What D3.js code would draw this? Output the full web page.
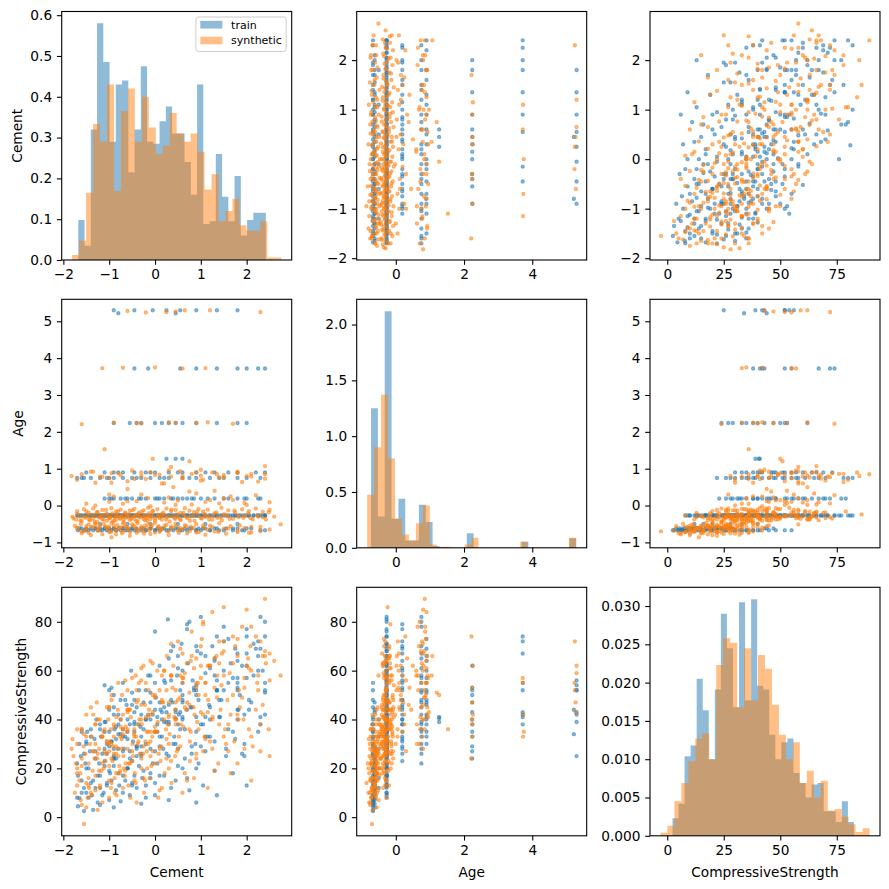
<!DOCTYPE html>
<html>
<head>
<meta charset="utf-8">
<script src="https://cdn.jsdelivr.net/npm/d3@7"></script>
<style>
  body { margin: 0; background: #fff; }
  svg { display: block; font-family: "DejaVu Sans", sans-serif; }
</style>
</head>
<body>
<script>
// ---- data (standardised Cement / Age, raw CompressiveStrength) ----

// train rows, grouped by age band
const trainCement = [
  -1.68,-1.65,-1.55,-1.5,-1.45,-1.4,-1.35,-1.3,-1.25,-1.2,-1.15,-1.1,-1.05,-1.0,-0.95,-0.9,-0.85,-0.8,-0.75,-0.7,-0.65,-0.6,-0.55,-0.5,-0.45,-0.4,-0.3,-0.25,-0.2,-0.1,0.0,0.05,0.1,0.2,0.25,0.35,0.4,0.5,0.55,0.65,0.7,0.8,0.9,0.95,1.0,1.1,1.2,1.3,1.4,1.55,1.7,1.8,1.95,2.1,2.3,
  -1.6,-1.5,-1.3,-1.2,-1.1,-1.0,-0.9,-0.85,-0.7,-0.6,-0.5,-0.4,-0.3,-0.2,-0.1,0.0,0.15,0.3,0.45,0.6,0.75,0.9,1.05,1.2,1.35,1.5,1.7,1.9,2.0,2.4,
  -1.2,-0.6,-0.1,0.5,1.1,1.8,
  -1.7,-1.68,-1.62,-1.55,-1.5,-1.45,-1.4,-1.35,-1.3,-1.28,-1.22,-1.18,-1.12,-1.1,-1.08,-1.05,-1.0,-0.98,-0.95,-0.9,
  -0.88,-0.85,-0.8,-0.78,-0.75,-0.7,-0.68,-0.62,-0.6,-0.55,-0.52,-0.48,-0.45,-0.4,-0.35,-0.32,-0.28,-0.25,-0.2,-0.15,
  -0.1,-0.05,0.0,0.02,0.05,0.1,0.12,0.18,0.22,0.28,0.3,0.35,0.38,0.42,0.48,0.52,0.58,0.6,0.65,0.7,
  0.72,0.78,0.82,0.88,0.92,0.95,1.0,1.05,1.1,1.18,1.25,1.3,1.35,1.42,1.5,1.6,1.7,1.75,1.82,1.9,
  2.0,2.05,2.15,2.25,2.3,2.4,2.4,
  -1.65,-1.6,-1.52,-1.48,-1.42,-1.38,-1.32,-1.25,-1.2,-1.15,-1.1,-1.05,-1.0,-0.95,-0.9,-0.85,-0.8,-0.75,-0.7,-0.65,
  -0.6,-0.55,-0.5,-0.45,-0.4,-0.35,-0.3,-0.25,-0.2,-0.1,0.0,0.05,0.1,0.15,0.2,0.3,0.35,0.45,0.5,0.6,
  0.7,0.8,0.85,0.9,1.0,1.1,1.2,1.3,1.35,1.45,1.55,1.65,1.75,1.85,1.95,2.05,2.15,2.25,2.35,2.4,
  -1.1,-1.0,-0.9,-0.75,-0.6,-0.5,-0.35,-0.2,0.0,0.1,0.2,0.35,0.5,0.6,0.7,0.85,1.0,1.3,1.5,1.8,2.0,2.3,
  -0.95,-0.65,-0.3,0.05,0.4,0.8,1.15,1.6,1.95,2.25,
  -1.7,-1.55,-1.4,-1.2,-1.05,-0.9,-0.7,-0.5,-0.3,-0.1,0.1,0.3,0.6,0.9,1.2,1.5,1.8,2.3,
  -1.6,-1.0,-0.4,0.2,0.75,1.4,2.0,
  -1.1,-0.9,-0.7,-0.45,-0.2,0.0,0.3,0.6,0.9,1.3,1.8,2.2,
  -1.5,-0.8,-0.1,0.5,1.1,1.6,2.4,
  0.25,0.45,0.6,
  -0.9,-0.55,-0.4,-0.3,0.0,0.15,0.3,0.45,0.6,0.9,1.35,1.8,2.0,
  -0.45,-0.15,0.55,0.9,1.35,1.8,2.0,2.25,2.4,
  -0.9,-0.8,-0.45,-0.05,0.25,0.45,0.55,0.9,1.35,1.8
];
const trainAge = [
  -0.67,-0.62,-0.67,-0.62,-0.67,-0.62,-0.67,-0.62,-0.67,-0.62,-0.67,-0.62,-0.67,-0.62,-0.67,-0.62,-0.67,-0.62,-0.67,-0.62,-0.67,-0.62,-0.67,-0.62,-0.67,-0.62,-0.67,-0.62,
  -0.67,-0.62,-0.67,-0.62,-0.67,-0.62,-0.67,-0.62,-0.67,-0.62,-0.67,-0.62,-0.67,-0.62,-0.67,-0.62,-0.67,-0.62,-0.67,-0.62,-0.67,-0.62,-0.67,-0.62,-0.67,-0.62,-0.67,
  -0.62,-0.67,-0.62,-0.67,-0.62,-0.67,-0.62,-0.67,-0.62,-0.67,-0.62,-0.67,-0.62,-0.67,-0.62,-0.67,-0.62,-0.67,-0.62,-0.67,-0.62,-0.67,-0.62,-0.67,-0.62,-0.67,-0.62,-0.67,-0.62,-0.67,
  -0.5,-0.5,-0.5,-0.5,-0.5,-0.5,
  -0.27,-0.27,-0.27,-0.27,-0.27,-0.27,-0.27,-0.27,-0.27,-0.27,-0.27,-0.27,-0.27,-0.27,-0.27,-0.27,-0.27,-0.27,-0.27,-0.27,
  -0.27,-0.27,-0.27,-0.27,-0.27,-0.27,-0.27,-0.27,-0.27,-0.27,-0.27,-0.27,-0.27,-0.27,-0.27,-0.27,-0.27,-0.27,-0.27,-0.27,
  -0.27,-0.27,-0.27,-0.27,-0.27,-0.27,-0.27,-0.27,-0.27,-0.27,-0.27,-0.27,-0.27,-0.27,-0.27,-0.27,-0.27,-0.27,-0.27,-0.27,
  -0.27,-0.27,-0.27,-0.27,-0.27,-0.27,-0.27,-0.27,-0.27,-0.27,-0.27,-0.27,-0.27,-0.27,-0.27,-0.27,-0.27,-0.27,-0.27,-0.27,
  -0.27,-0.27,-0.27,-0.27,-0.27,-0.27,-0.27,
  -0.27,-0.27,-0.27,-0.27,-0.27,-0.27,-0.27,-0.27,-0.27,-0.27,-0.27,-0.27,-0.27,-0.27,-0.27,-0.27,-0.27,-0.27,-0.27,-0.27,
  -0.27,-0.27,-0.27,-0.27,-0.27,-0.27,-0.27,-0.27,-0.27,-0.27,-0.27,-0.27,-0.27,-0.27,-0.27,-0.27,-0.27,-0.27,-0.27,-0.27,
  -0.27,-0.27,-0.27,-0.27,-0.27,-0.27,-0.27,-0.27,-0.27,-0.27,-0.27,-0.27,-0.27,-0.27,-0.27,-0.27,-0.27,-0.27,-0.27,-0.27,
  0.19,0.19,0.19,0.19,0.19,0.19,0.19,0.19,0.19,0.19,0.19,0.19,0.19,0.19,0.19,0.19,0.19,0.19,0.19,0.19,0.19,0.19,
  0.19,0.19,0.19,0.19,0.19,0.19,0.19,0.19,0.19,0.19,
  0.75,0.75,0.75,0.75,0.75,0.75,0.75,0.75,0.75,0.75,0.75,0.75,0.75,0.75,0.75,0.75,0.75,0.75,
  0.75,0.75,0.75,0.75,0.75,0.75,0.75,
  0.9,0.9,0.9,0.9,0.9,0.9,0.9,0.9,0.9,0.9,0.9,0.9,
  0.9,0.9,0.9,0.9,0.9,0.9,0.9,
  1.27,1.27,1.27,
  2.24,2.24,2.24,2.24,2.24,2.24,2.24,2.24,2.24,2.24,2.24,2.24,2.24,
  3.72,3.72,3.72,3.72,3.72,3.72,3.72,3.72,3.72,
  5.3,5.22,5.3,5.3,5.3,5.22,5.3,5.3,5.3,5.3
];
const trainStrength = [
  4.5,7.8,2.5,10,8,14,3,12,6,17,9,21,13,7,15,24,11,18,6.5,27,15,20,9,23,17,12,25,19,8,28,14,22,33,17,26,12,30,21,36,24,16,29,6,22,38,27,33,19,41,25,35,44,30,47,38,
  15,20,24,5,28,19,4,32,10,35,14,29,5.5,40,18,9,43,7,15,48,11,20,13,45,9,52,18,26,13,55,
  12,20,16,28,33,40,
  8,17,25,12,31,20,36,15,27,40,22,33,10,54,39,26,44,18,31,50,
  36,24,42,13,34,55,28,46,20,38,60,31,43,25,52,37,16,47,30,58,
  40,22,76,49,35,62,44,28,55,81,39,68,47,33,58,42,71,50,36,77,
  63,45,56,30,68,48,82,38,59,46,70,65,52,41,60,36,57,69,44,62,
  74,48,58,66,41,80,52,
  30,10,22,35,27,9,32,17,36,26,39,14,29,53,21,37,28,48,17,33,
  40,24,13,35,45,21,29,36,13,51,27,41,17,33,45,25,56,30,38,20,
  44,26,52,35,29,66,40,31,74,48,28,63,32,50,25,44,71,35,60,42,
  23,35,28,40,32,46,38,52,44,29,56,48,61,40,79,53,67,58,72,64,77,69,
  31,48,26,38,70,45,33,55,42,60,
  22,26,33,38,30,45,36,51,42,58,47,65,55,70,61,78,67,82,
  35,52,28,39,80,48,57,
  35,42,33,48,40,55,46,60,52,64,57,69,
  30,38,47,66,41,73,51,
  39,40.5,41,
  24,27,29,33,35,40,38,43,47,50,52,53,62,
  38,42,43,41,52,55,67,72,74,
  25,34,39,42,43,44,52,54,56,52
];

// synthetic rows
const synthCement = [
  -1.55,-1.6,-1.4,-1.25,-0.95,-1.0,-0.85,-0.7,-0.55,-0.4,-0.25,-0.1,0.1,0.3,0.5,0.7,0.9,1.1,1.3,1.55,1.8,2.05,2.3,
  -1.75,-1.7,-1.62,-1.5,-1.45,-1.38,-1.3,-1.25,-1.2,-1.12,-1.05,-1.0,-0.95,-0.88,-0.82,-0.76,-0.7,-0.64,-0.58,-0.5,
  -0.44,-0.38,-0.3,-0.22,-0.15,-0.08,0.0,0.08,0.15,0.25,0.35,0.45,0.55,0.65,0.78,0.9,1.05,1.2,1.4,1.6,1.85,2.1,2.74,
  -1.7,-1.6,-1.5,-1.45,-1.35,-1.3,-1.22,-1.15,-1.08,-1.02,-0.96,-0.9,-0.84,-0.78,-0.72,-0.66,-0.6,-0.54,-0.48,-0.42,
  -0.36,-0.3,-0.24,-0.18,-0.12,-0.06,0.0,0.07,0.14,0.21,0.28,0.36,0.44,0.52,0.6,0.68,0.76,0.85,0.95,1.05,
  1.15,1.25,1.38,1.5,1.65,1.8,1.95,2.1,2.3,2.5,
  -1.8,-1.72,-1.65,-1.6,-1.52,-1.47,-1.42,-1.36,-1.3,-1.26,-1.2,-1.15,-1.1,-1.05,-1.0,-0.96,-0.92,-0.88,-0.84,-0.8,
  -0.76,-0.72,-0.68,-0.64,-0.6,-0.55,-0.5,-0.46,-0.42,-0.38,-0.34,1.5,-0.26,-0.22,-0.18,-0.14,-0.1,-0.05,0.0,0.05,
  0.1,0.15,0.2,0.26,0.32,0.38,0.44,0.5,0.56,0.62,0.7,0.78,0.86,0.94,1.02,1.1,1.18,1.26,1.36,1.46,
  1.58,1.7,1.82,1.95,2.08,2.25,2.42,
  -1.78,-1.7,-1.63,-1.56,-1.5,-1.44,-1.38,-1.32,-1.27,-1.22,-1.17,-1.12,-1.07,-1.02,-0.98,-0.93,-0.89,-0.85,-0.81,-0.77,
  -0.73,-0.69,-0.65,-0.61,-0.57,-0.53,-0.49,-0.45,-0.41,-0.37,-0.33,-0.29,-0.25,-0.21,-0.17,-0.13,-0.09,-0.05,0.0,0.06,
  0.12,0.18,0.24,0.3,0.36,0.42,0.48,0.55,0.62,0.69,0.76,0.84,0.92,1.0,1.08,1.16,1.25,1.34,1.43,1.53,
  1.63,1.73,1.83,1.93,2.03,2.13,2.23,2.35,2.48,2.6,
  -1.7,-1.55,-1.45,-1.35,-1.25,-1.15,-1.05,-0.95,-0.85,-0.75,-0.65,-0.55,-0.45,-0.35,-0.25,-0.15,-0.05,0.05,0.15,0.25,
  0.35,0.45,0.55,0.65,0.75,0.85,0.95,1.05,1.15,1.3,1.45,1.6,1.75,1.9,2.05,2.2,2.35,2.5,
  -1.3,-1.0,-0.7,-0.4,-0.1,0.2,0.5,0.8,1.1,1.4,1.7,2.0,2.5,
  -0.9,-0.3,0.3,0.9,1.5,2.2,
  -0.6,0.4,1.3,
  -1.7,-1.3,-1.0,-0.6,-0.2,0.2,0.6,1.0,1.4,1.9,2.4,
  -1.82,-1.6,-1.35,-1.15,-0.95,-0.75,-0.5,-0.3,-0.1,0.1,0.35,0.55,0.8,1.0,1.25,1.5,1.8,2.1,2.4,
  -1.5,-1.2,-1.0,-0.8,-0.6,-0.45,-0.3,-0.15,0.0,0.15,0.3,0.45,0.6,0.75,0.9,1.05,1.2,1.35,1.5,1.65,
  1.8,1.95,2.1,2.25,2.4,-1.4,-0.95,0.35,1.0,2.0,
  -1.1,-0.05,0.75,
  -1.6,-0.9,-0.3,0.3,0.9,1.7,-0.4,0.45,1.15,
  -1.15,0.0,0.6,-0.7,1.1,
  -0.6,0.25,0.65,1.2,2.3,0.45,-0.2
];
const synthAge = [
  -0.70,-0.75,-0.80,-0.68,-0.86,-0.72,-0.78,-0.70,-0.82,-0.74,-0.69,-0.77,-0.71,-0.80,-0.68,-0.75,-0.73,-0.79,-0.70,-0.76,-0.72,-0.74,-0.69,
  -0.55,-0.60,-0.50,-0.64,-0.52,-0.58,-0.48,-0.62,-0.55,-0.50,-0.60,-0.57,-0.47,-0.63,-0.53,-0.59,-0.49,-0.56,-0.61,-0.51,
  -0.58,-0.48,-0.62,-0.54,-0.50,-0.59,-0.47,-0.56,-0.63,-0.52,-0.57,-0.49,-0.61,-0.53,-0.58,-0.50,-0.60,-0.55,-0.48,-0.62,-0.54,-0.58,-0.51,
  -0.62,-0.70,-0.56,-0.74,-0.60,-0.52,-0.66,-0.78,-0.57,-0.64,-0.71,-0.54,-0.68,-0.61,-0.75,-0.58,-0.65,-0.72,-0.55,-0.63,
  -0.69,-0.57,-0.76,-0.60,-0.67,-0.53,-0.73,-0.59,-0.66,-0.55,-0.70,-0.62,-0.57,-0.74,-0.64,-0.56,-0.69,-0.60,-0.72,-0.54,
  -0.66,-0.58,-0.71,-0.63,-0.56,-0.68,-0.61,-0.73,-0.58,-0.65,
  -0.30,-0.38,-0.28,-0.42,-0.33,-0.27,-0.40,-0.35,-0.29,-0.44,-0.31,-0.37,-0.26,-0.41,-0.34,-0.29,-0.43,-0.32,-0.38,-0.27,
  -0.36,-0.30,-0.45,-0.33,-0.28,-0.39,-0.31,-0.36,-0.26,-0.42,-0.30,-0.24,-0.28,-0.40,-0.33,-0.27,-0.37,-0.30,-0.41,-0.29,
  -0.34,-0.38,-0.27,-0.32,-0.43,-0.29,-0.36,-0.31,-0.39,-0.28,-0.34,-0.30,-0.41,-0.27,-0.35,-0.31,-0.38,-0.28,-0.33,-0.40,
  -0.29,-0.36,-0.31,-0.27,-0.34,-0.30,-0.38,
  -0.35,-0.22,-0.40,-0.30,-0.15,-0.37,-0.25,-0.43,-0.18,-0.32,-0.27,-0.38,-0.12,-0.29,-0.34,-0.21,-0.41,-0.26,-0.16,-0.33,
  -0.28,-0.39,-0.19,-0.31,-0.24,-0.36,-0.13,-0.29,-0.42,-0.23,-0.32,-0.17,-0.36,-0.27,-0.40,-0.21,-0.30,-0.14,-0.35,-0.25,
  -0.31,-0.19,-0.38,-0.28,-0.11,-0.33,-0.24,-0.37,-0.20,-0.30,-0.41,-0.26,-0.16,-0.34,-0.23,-0.29,-0.38,-0.19,-0.31,-0.25,
  -0.36,-0.14,-0.28,-0.33,-0.21,-0.37,-0.26,-0.32,-0.18,-0.30,
  -0.15,-0.10,-0.20,-0.08,-0.18,-0.12,-0.22,-0.07,-0.16,-0.11,-0.21,-0.14,-0.09,-0.19,-0.13,-0.06,-0.17,-0.10,-0.23,-0.08,
  -0.15,-0.12,-0.20,-0.07,-0.14,-0.18,-0.09,-0.16,-0.11,-0.21,-0.06,-0.13,-0.19,-0.10,-0.15,-0.08,-0.17,-0.12,
  0.0,0.1,0.05,0.12,-0.02,0.08,0.14,0.03,0.1,0.06,0.15,0.02,0.09,
  0.25,0.3,0.22,0.33,0.2,0.28,
  0.45,0.5,0.4,
  0.7,0.62,0.75,0.66,0.72,0.6,0.74,0.68,0.76,0.64,0.73,
  0.8,0.85,0.92,0.78,0.88,0.82,0.95,0.8,0.9,0.84,0.79,0.93,0.86,0.81,0.9,0.83,0.88,0.79,0.85,
  0.05,0.78,0.3,0.88,0.12,0.72,0.9,0.2,0.83,0.6,0.95,0.02,0.8,0.38,0.9,0.7,0.15,0.85,0.77,0.25,
  0.92,0.07,0.86,0.65,1.07,0.92,0.62,1.05,0.97,0.8,
  1.53,1.27,1.2,
  2.21,2.25,2.23,2.26,2.24,2.22,2.24,2.25,2.26,
  3.73,3.75,3.72,3.74,3.73,
  5.28,5.25,5.3,5.3,5.25,5.27,5.24
];
const synthStrength = [
  -2.8,5,10,3,14,8,18,12,22,6,16,25,11,20,28,15,24,32,19,30,22,36,27,
  10,18,7,14,22,9,17,26,12,20,31,15,24,10,28,19,34,22,13,27,
  18,38,24,15,30,21,35,26,12,32,23,40,29,18,35,26,42,31,38,27,45,33,58,
  13,21,4,16,27,11,19,6,23,30,12,26,9,21,28,17,36,8,25,14,
  31,20,10,27,16,33,22,8,29,18,38,14,25,33,10,44,23,16,36,27,
  12,40,22,33,18,42,28,15,38,25,
  32,22,15,36,26,8,30,19,38,24,13,33,27,45,21,36,29,16,41,25,
  33,50,20,37,28,44,23,34,58,30,40,86,26,46,35,52,31,43,37,60,
  28,48,40,66,34,53,44,72,38,57,47,64,42,55,73,50,62,41,58,67,
  48,63,40,57,70,52,63,
  25,36,18,29,42,12,33,24,47,28,19,35,26,40,31,23,37,29,44,18,
  32,25,56,35,22,41,30,15,33,48,26,38,62,31,20,44,35,27,50,39,
  23,47,36,30,58,41,27,49,37,63,31,45,39,57,33,48,28,66,44,36,
  59,31,52,40,65,29,55,46,36,64,
  20,34,13,27,40,22,31,48,26,37,19,44,33,55,29,41,63,35,47,24,
  58,40,69,45,36,61,50,79,43,65,54,38,70,49,61,44,66,56,
  30,45,36,52,42,60,48,66,55,72,50,62,67,
  38,56,47,65,58,74,
  44,62,53,
  30,38,45,52,41,60,55,70,63,78,68,
  28,36,42,33,50,40,57,46,64,52,71,58,76,62,84,68,73,60,89.4,
  33,40,27,55,44,36,61,35,49,58,41,52,67,46,55,80,62,49,72,42,
  66,53,78,58,66,45,30,58,43,85,
  36,50,51,
  24,33,40,42,53,74,47,38,62,
  33,35,57,42,55,
  43,52,59,62,72,47,55
];

// value ranges (min, max) of each column, used for the 30 histogram bins
const trainCementRange = [-1.674, 2.418];
const synthCementRange = [-1.808, 2.754];
const trainAgeRange = [-0.726, 5.29];
const synthAgeRange = [-0.84, 5.28];
const trainStrengthRange = [2.33, 82.6];
const synthStrengthRange = [-3.0, 89.5];

// histogram densities (30 bins each)
const cementHistTrain = [0.098,0.035,0.32,0.58,0.485,0.29,0.43,0.44,0.215,0.32,0.475,0.29,0.285,0.34,0.376,0.31,0.31,0.24,0.16,0.43,0.088,0.095,0.26,0.155,0.095,0.206,0.06,0.098,0.116,0.116];
const cementHistSynth = [0.012,0.047,0.165,0.333,0.29,0.43,0.17,0.365,0.42,0.29,0.40,0.325,0.26,0.28,0.36,0.31,0.29,0.31,0.265,0.173,0.21,0.095,0.12,0.15,0.085,0.072,0.072,0.095,0.006,0.006];
const ageHistTrain = [1.25,0.28,2.12,0.26,0.44,0.065,0.065,0.385,0.23,0.015,0.005,0,0,0,0.13,0,0,0,0,0,0,0,0.055,0,0,0,0,0,0,0.085];
const ageHistSynth = [0.475,0.9,1.37,0.8,0.26,0.12,0.065,0.22,0.38,0.03,0.01,0.01,0,0,0.03,0.09,0,0,0,0,0,0,0.055,0,0,0,0,0,0,0.09];
const strengthHistTrain = [0.0023,0.0042,0.0104,0.0118,0.0205,0.0164,0.0100,0.0191,0.0290,0.0245,0.0168,0.0305,0.0177,0.0309,0.0196,0.0191,0.0132,0.0100,0.0122,0.0127,0.0082,0.0069,0.0050,0.0067,0.0069,0.0032,0.0032,0.0018,0.0045,0.0018];
const strengthHistSynth = [0.0004,0.0013,0.0045,0.0069,0.0097,0.0127,0.0134,0.0100,0.0223,0.0258,0.0252,0.0168,0.0245,0.0177,0.0236,0.0218,0.0171,0.0132,0.0100,0.0122,0.0069,0.0085,0.0050,0.0072,0.0033,0.0035,0.0025,0.0015,0.0005,0.0010];

// tick values
const cementTicks = [-2, -1, 0, 1, 2];
const ageTicksX = [0, 2, 4];
const ageTicksY = [-1, 0, 1, 2, 3, 4, 5];
const strengthTicksX = [0, 25, 50, 75];
const strengthTicksY = [0, 20, 40, 60, 80];
const cementDensityTicks = [0, 0.1, 0.2, 0.3, 0.4, 0.5, 0.6];
const ageDensityTicks = [0, 0.5, 1.0, 1.5, 2.0];
const strengthDensityTicks = [0, 0.005, 0.01, 0.015, 0.02, 0.025, 0.03];

const seriesNames = ["train", "synthetic"];

// ---- layout ----
const blue = "#1f77b4", orange = "#ff7f0e";
const colLeft = [61.7, 356.7, 650], colW = 230;
const rowTop = [11.5, 299.3, 587.3], rowH = 248.5;
const FS = 13.7, TICK = 4.8, PAD = 4.8, LPAD = 5.5;

function padded(a, b) {
  const lo = Math.min(a[0], b[0]), hi = Math.max(a[1], b[1]);
  const m = (hi - lo) * 0.05;
  return [lo - m, hi + m];
}

const vars = [
  {name: "Cement", train: trainCement, synth: synthCement, tr: trainCementRange, sr: synthCementRange,
   xt: cementTicks, yt: cementTicks, hb: cementHistTrain, ho: cementHistSynth, ht: cementDensityTicks, hf: d3.format(".1f")},
  {name: "Age", train: trainAge, synth: synthAge, tr: trainAgeRange, sr: synthAgeRange,
   xt: ageTicksX, yt: ageTicksY, hb: ageHistTrain, ho: ageHistSynth, ht: ageDensityTicks, hf: d3.format(".1f")},
  {name: "CompressiveStrength", train: trainStrength, synth: synthStrength, tr: trainStrengthRange, sr: synthStrengthRange,
   xt: strengthTicksX, yt: strengthTicksY, hb: strengthHistTrain, ho: strengthHistSynth, ht: strengthDensityTicks, hf: d3.format(".3f")}
];
vars.forEach(v => v.domain = padded(v.tr, v.sr));

const svg = d3.select("body").append("svg").attr("width", 889).attr("height", 889);

function styleAxis(sel) {
  sel.select(".domain").remove();
  sel.attr("font-size", null).attr("font-family", null);
  sel.selectAll(".tick line").attr("stroke", "#000").attr("stroke-width", 1.1);
  sel.selectAll(".tick text").attr("fill", "#000").style("font-size", FS + "px");
}

for (let r = 0; r < 3; r++) {
  for (let c = 0; c < 3; c++) {
    const g = svg.append("g").attr("transform", `translate(${colLeft[c]},${rowTop[r]})`);
    const x = d3.scaleLinear().domain(vars[c].domain).range([0, colW]);
    let y, yTicks, yFmt;

    if (r === c) {
      const v = vars[r];
      const ymax = Math.max(d3.max(v.hb), d3.max(v.ho)) * 1.05;
      y = d3.scaleLinear().domain([0, ymax]).range([rowH, 0]);
      [[v.hb, v.tr, blue], [v.ho, v.sr, orange]].forEach(([h, rg, col]) => {
        const step = (rg[1] - rg[0]) / h.length;
        const pts = h.map((d, i) => [rg[0] + i * step, d]);
        pts.push([rg[1], h[h.length - 1]]);
        const area = d3.area().curve(d3.curveStepAfter)
          .x(d => x(d[0])).y0(y(0)).y1(d => y(d[1]));
        g.append("path").attr("d", area(pts))
          .attr("fill", col).attr("fill-opacity", 0.5);
      });
      yTicks = v.ht; yFmt = v.hf;
    } else {
      y = d3.scaleLinear().domain(vars[r].domain).range([rowH, 0]);
      [[vars[c].train, vars[r].train, blue], [vars[c].synth, vars[r].synth, orange]].forEach(([xs, ys, col]) => {
        g.append("g").selectAll("circle").data(d3.range(xs.length)).join("circle")
          .attr("cx", i => x(xs[i])).attr("cy", i => y(ys[i])).attr("r", 1.6)
          .attr("fill", col).attr("fill-opacity", 0.5)
          .attr("stroke", col).attr("stroke-opacity", 0.5).attr("stroke-width", 1.2);
      });
      yTicks = vars[r].yt; yFmt = d3.format("d");
    }

    g.append("g").attr("transform", `translate(0,${rowH})`)
      .call(d3.axisBottom(x).tickValues(vars[c].xt).tickFormat(d3.format("d"))
        .tickSize(TICK).tickPadding(PAD).tickSizeOuter(0))
      .call(styleAxis);
    const ya = g.append("g")
      .call(d3.axisLeft(y).tickValues(yTicks).tickFormat(yFmt)
        .tickSize(TICK).tickPadding(PAD).tickSizeOuter(0))
      .call(styleAxis);

    g.append("rect").attr("width", colW).attr("height", rowH)
      .attr("fill", "none").attr("stroke", "#000").attr("stroke-width", 1.1);

    if (c === 0) {
      const maxW = d3.max(ya.selectAll(".tick text").nodes(), n => n.getBBox().width);
      const bx = -TICK - PAD - maxW - LPAD - 0.236 * FS;
      g.append("text").attr("transform", `translate(${bx},${rowH / 2}) rotate(-90)`)
        .attr("text-anchor", "middle").style("font-size", FS + "px").text(vars[r].name);
    }
    if (r === 2) {
      g.append("text").attr("x", colW / 2).attr("y", rowH + 41)
        .attr("text-anchor", "middle").style("font-size", FS + "px").text(vars[c].name);
    }
  }
}

// ---- legend in the first histogram ----
const LF = 11;
const lg = svg.append("g");
const labels = lg.selectAll("text").data(seriesNames).join("text")
  .style("font-size", LF + "px").text(d => d);
const textW = d3.max(labels.nodes(), n => n.getComputedTextLength());
const boxW = 0.4 * LF * 2 + 2 * LF + 0.8 * LF + textW;
const boxH = 34.4;
const boxRight = colLeft[0] + colW - 0.5 * LF, boxTop = rowTop[0] + 0.5 * LF;
const boxLeft = boxRight - boxW;
lg.insert("rect", "text").attr("x", boxLeft).attr("y", boxTop).attr("width", boxW).attr("height", boxH)
  .attr("rx", 2.5).attr("fill", "#fff").attr("fill-opacity", 0.8)
  .attr("stroke", "#cccccc").attr("stroke-width", 1);
[blue, orange].forEach((col, i) => {
  const cy = boxTop + 7.7 + i * 15.8;
  lg.append("rect").attr("x", boxLeft + 0.4 * LF).attr("y", cy - 0.35 * LF)
    .attr("width", 2 * LF).attr("height", 0.7 * LF)
    .attr("fill", col).attr("fill-opacity", 0.5);
});
labels.attr("x", boxLeft + 0.4 * LF + 2.8 * LF)
  .attr("y", (d, i) => boxTop + 7.7 + i * 15.8 + 3.8);
</script>
</body>
</html>
